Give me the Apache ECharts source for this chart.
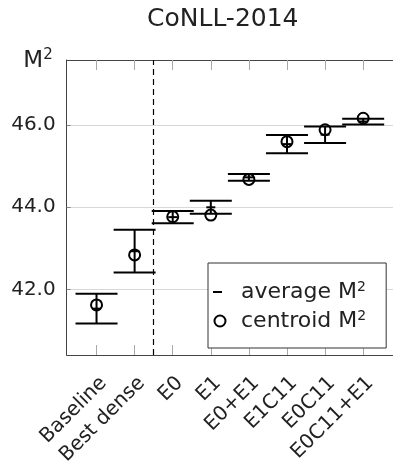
<!DOCTYPE html>
<html><head><meta charset="utf-8">
<script src="https://cdn.jsdelivr.net/npm/echarts@6/dist/echarts.min.js"></script>
<style>html,body{margin:0;padding:0;background:#fff}#c{width:393px;height:469px}</style>
</head><body><div id="c"></div>
<script>
// ---- data ----
const categories = ['Baseline', 'Best dense', 'E0', 'E1', 'E0+E1', 'E1C11', 'E0C11', 'E0C11+E1'];
const averageM2  = [41.53, 42.93, 43.76, 44.00, 44.73, 45.54, 45.77, 46.09];
const errorM2    = [0.36, 0.52, 0.15, 0.16, 0.08, 0.22, 0.20, 0.07];
const centroidM2 = [41.62, 42.84, 43.77, 43.81, 44.68, 45.60, 45.89, 46.17];
const yTicks = [42, 44, 46];
const separatorAfterIndex = 1; // dashed divider between "Best dense" and "E0"

const FONT = 'DejaVu Sans';
const xIdx = categories.map((c, i) => i);
const avgData = categories.map((c, i) => [i, averageM2[i], errorM2[i]]);
const cenData = categories.map((c, i) => [i, centroidM2[i]]);

const chart = echarts.init(document.getElementById('c'), null, {renderer: 'canvas'});
const axisColor = '#444';
const tickColor = '#a8a8a8';

chart.setOption({
  animation: false,
  backgroundColor: '#fff',
  textStyle: {fontFamily: FONT},
  title: {
    text: 'CoNLL-2014', left: 147, top: 7, padding: 0,
    textStyle: {fontFamily: FONT, fontSize: 25, fontWeight: 'normal', color: '#222'}
  },
  grid: {left: 66.7, right: -2, top: 60, bottom: 114, containLabel: false},
  xAxis: [{
    type: 'value', position: 'bottom', min: -0.783, max: 7.783,
    axisLine: {show: true, onZero: false, lineStyle: {color: axisColor, width: 1}},
    axisTick: {show: true, inside: true, length: 10, customValues: xIdx, lineStyle: {color: tickColor, width: 1}},
    axisLabel: {show: true, customValues: xIdx, rotate: 45, margin: 18, verticalAlign: 'top',
      fontFamily: FONT, fontSize: 20, color: '#222',
      formatter: v => categories[Math.round(v)] || ''},
    splitLine: {show: false}
  }, {
    type: 'value', position: 'top', min: -0.783, max: 7.783,
    axisLine: {show: true, onZero: false, lineStyle: {color: axisColor, width: 1}},
    axisTick: {show: true, inside: true, length: 10, customValues: xIdx, lineStyle: {color: tickColor, width: 1}},
    axisLabel: {show: false},
    splitLine: {show: false}
  }],
  yAxis: {
    type: 'value', min: 40.40, max: 47.59,
    name: '{m|M}{s|2}', nameLocation: 'end', nameGap: -1,
    nameTextStyle: {align: 'right', verticalAlign: 'middle', padding: [0, 14, 0, 0],
      rich: {m: {fontFamily: FONT, fontSize: 23, color: '#222', lineHeight: 26},
             s: {fontFamily: FONT, fontSize: 15, color: '#222', verticalAlign: 'top', lineHeight: 15}}},
    axisLine: {show: true, onZero: false, lineStyle: {color: axisColor, width: 1}},
    axisTick: {show: true, inside: true, length: 4, customValues: yTicks, lineStyle: {color: '#888'}},
    axisLabel: {customValues: yTicks, margin: 11, fontFamily: FONT, fontSize: 20, color: '#222',
      formatter: v => v.toFixed(1)},
    splitLine: {show: true, lineStyle: {color: '#d8d8d8', width: 1}}
  },
  legend: {
    show: true, orient: 'vertical', left: 208, top: 263,
    padding: [17, 20, 16, 3], itemGap: 6, itemWidth: 18, itemHeight: 11,
    backgroundColor: '#fff', borderColor: '#333', borderWidth: 1,
    data: [
      {name: 'average', icon: 'path://M0,0M18,11M2,4.5H11V6.5H2Z'},
      {name: 'centroid', icon: 'circle'}
    ],
    formatter: n => '{t|' + n + ' M}{s|2}',
    textStyle: {padding: [0, 0, 0, 7], rich: {
      t: {fontFamily: FONT, fontSize: 22, color: '#222', lineHeight: 24},
      s: {fontFamily: FONT, fontSize: 14, color: '#222', verticalAlign: 'top', lineHeight: 14}}}
  },
  series: [{
    name: 'average', type: 'custom', xAxisIndex: 0, z: 3,
    itemStyle: {color: '#000'},
    data: avgData,
    renderItem: (params, api) => {
      const x = api.value(0), avg = api.value(1), err = api.value(2);
      const top = api.coord([x, avg + err]);
      const bot = api.coord([x, avg - err]);
      const mid = api.coord([x, avg]);
      const hw = 21, dw = 4.5;
      const st = {stroke: '#000', lineWidth: 2};
      return {type: 'group', children: [
        {type: 'line', shape: {x1: top[0], y1: top[1], x2: bot[0], y2: bot[1]}, style: st},
        {type: 'line', shape: {x1: top[0] - hw, y1: top[1], x2: top[0] + hw, y2: top[1]}, style: st},
        {type: 'line', shape: {x1: bot[0] - hw, y1: bot[1], x2: bot[0] + hw, y2: bot[1]}, style: st},
        {type: 'line', shape: {x1: mid[0] - dw, y1: mid[1], x2: mid[0] + dw, y2: mid[1]}, style: st}
      ]};
    },
    markLine: {
      silent: true, symbol: 'none', label: {show: false},
      lineStyle: {color: '#000', type: [6, 4], width: 1.2},
      data: [{xAxis: separatorAfterIndex + 0.5}]
    }
  }, {
    name: 'centroid', type: 'scatter', xAxisIndex: 0, z: 4,
    symbol: 'circle', symbolSize: 11,
    itemStyle: {color: 'rgba(255,255,255,0)', borderColor: '#000', borderWidth: 2, opacity: 1},
    data: cenData
  }]
});
</script></body></html>
